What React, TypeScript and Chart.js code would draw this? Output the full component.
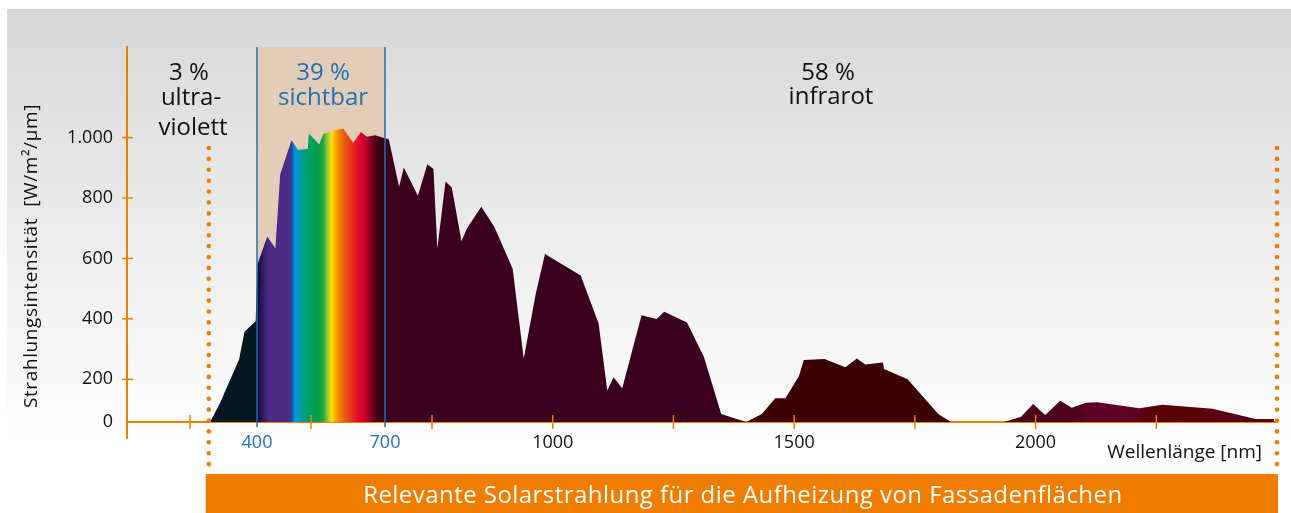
import React, { useEffect, useRef } from 'react';
import { Chart, LinearScale, registerables } from 'chart.js';

// ---------- data ----------
const wavelengthNm = [
  295, 317, 360, 372, 397,
  401, 419, 434, 443, 464, 476, 494, 496, 522, 533, 560, 587, 614, 635, 651, 673, 695,
  704, 715, 720, 735, 745, 753, 761, 778, 791, 811, 822, 852, 879, 917, 940, 965, 984,
  1058, 1095, 1113, 1126, 1144, 1184, 1215, 1231, 1278, 1313, 1349, 1373, 1401,
  1433, 1461, 1482, 1510, 1520, 1563, 1606, 1630, 1647, 1684, 1686, 1735, 1799, 1825,
  1935, 1970, 1995, 2020, 2051, 2075, 2104, 2128, 2215, 2263, 2366, 2456, 2494,
];
const intensity = [
  0, 88, 266, 357, 392,
  582, 673, 634, 879, 991, 959, 963, 1014, 978, 1011, 1024, 1030, 983, 1019, 1003, 1008, 1000,
  995, 837, 901, 808, 912, 896, 632, 855, 835, 657, 698, 771, 705, 566, 269, 484, 615,
  544, 385, 147, 207, 158, 412, 400, 424, 388, 275, 37, 20, 0,
  37, 111, 111, 211, 264, 267, 240, 269, 249, 256, 234, 200, 36, 0,
  0, 25, 84, 33, 100, 67, 90, 92, 64, 81, 62, 14, 14,
];

const visibleRangeNm = [400, 700];
const relevantRangeNm = [292, 2500];
const xLabeledTicks = [400, 700, 1000, 1500, 2000];
const xMinorTicks = [250, 500, 750, 1000, 1250, 1500, 1750, 2000, 2250];
const yTicks = [0, 200, 400, 600, 800, 1000];

// spectrum colour map (wavelength -> colour)
const stopNm = [280, 398, 401, 410, 422, 458, 464, 470, 476, 482, 494, 520, 533, 545, 556, 565, 575, 590, 610, 630, 645, 660, 675, 690, 700,
  1400, 1420, 1830, 1940, 2000, 2080, 2110, 2200, 2240, 2330, 2380, 2500];
const stopColor = ['#03171f', '#03171f', '#150b26', '#2f1a5e', '#4b2b85', '#4b2b85', '#2e3f9c', '#0096d8', '#0098c8', '#009b98', '#00a06a', '#00a04a', '#2aa83c', '#9cc83a', '#ffe500', '#f9b200', '#f08a00', '#e95d12', '#e5301d', '#e3062c', '#c8002e', '#8c0022', '#4a0010', '#360010', '#3a001e',
  '#3a001e', '#3d0000', '#3d0000', '#42000f', '#4c001a', '#4d001a', '#5c0024', '#5e0024', '#560004', '#580004', '#5a0014', '#5a0014'];

// ---------- axis warping (the illustration's axes are not uniform) ----------
const X_WARP = [[120, 127], [250, 190], [400, 257], [500, 311], [700, 385], [750, 432], [2500, 1277]];
const Y_WARP = [[0, 422], [200, 379.3], [1300, 47]];
const WARPS: Record<string, number[][]> = { x: X_WARP, y: Y_WARP };

function interp(a: number[][], v: number, from = 0, to = 1) {
  let i = 0;
  while (i < a.length - 2 && v > a[i + 1][from]) i++;
  const [p, q] = [a[i], a[i + 1]];
  return p[to] + ((v - p[from]) * (q[to] - p[to])) / (q[from] - p[from]);
}

class WarpScale extends LinearScale {
  static id = 'warp';
  static defaults = LinearScale.defaults;
  getPixelForValue(value: number) {
    if (value === null || value === undefined) return NaN;
    const a = WARPS[(this as any).id];
    const r0 = interp(a, (this as any).min), r1 = interp(a, (this as any).max);
    return (this as any).getPixelForDecimal((interp(a, value) - r0) / (r1 - r0));
  }
  getValueForPixel(pixel: number) {
    const a = WARPS[(this as any).id];
    const r0 = interp(a, (this as any).min), r1 = interp(a, (this as any).max);
    const d = (this as any).getDecimalForPixel(pixel);
    const sorted = a[0][1] <= a[a.length - 1][1] ? a : [...a].reverse();
    return interp(sorted, r0 + d * (r1 - r0), 1, 0);
  }
}

Chart.register(...registerables, WarpScale as any);

const FONT = '"Open Sans", "DejaVu Sans", sans-serif';
const ORANGE = '#f07d00';
const BLUE = '#1c70b7';
const PEACH = '#e4cdb6';
const INK = '#111111';

function spectrumFill(chart: any) {
  const xs = chart.scales?.x;
  if (!xs || !chart.chartArea) return '#3a001e';
  const w = xs.right - xs.left;
  const g = chart.ctx.createLinearGradient(xs.left, 0, xs.right, 0);
  stopNm.forEach((nm, i) => {
    const p = (xs.getPixelForValue(nm) - xs.left) / w;
    g.addColorStop(Math.min(1, Math.max(0, p)), stopColor[i]);
  });
  return g;
}

function seg(ctx: CanvasRenderingContext2D, x1: number, y1: number, x2: number, y2: number) {
  ctx.beginPath();
  ctx.moveTo(x1, y1);
  ctx.lineTo(x2, y2);
  ctx.stroke();
}

function txt(ctx: CanvasRenderingContext2D, s: string, x: number, y: number, size: number, color: string, align: CanvasTextAlign = 'center', spacing = 0) {
  ctx.font = `${size}px ${FONT}`;
  (ctx as any).letterSpacing = `${spacing}px`;
  ctx.fillStyle = color;
  ctx.textAlign = align;
  ctx.textBaseline = 'alphabetic';
  ctx.fillText(s, x, y);
  (ctx as any).letterSpacing = '0px';
}

const decor = {
  id: 'decor',
  beforeDraw(chart: any) {
    const { ctx, width, height } = chart;
    ctx.save();
    ctx.fillStyle = '#ffffff';
    ctx.fillRect(0, 0, width, height);
    const g = ctx.createLinearGradient(0, 9, 0, 445);
    g.addColorStop(0, '#d8d8d8');
    g.addColorStop(1, '#ffffff');
    ctx.fillStyle = g;
    ctx.fillRect(7, 9, width - 7, height - 9);
    ctx.restore();
  },
  beforeDatasetsDraw(chart: any) {
    const { ctx, chartArea } = chart;
    const xs = chart.scales.x, ys = chart.scales.y;
    const x0 = xs.getPixelForValue(visibleRangeNm[0]);
    const x1 = xs.getPixelForValue(visibleRangeNm[1]);
    ctx.save();
    ctx.fillStyle = PEACH;
    ctx.fillRect(x0, chartArea.top, x1 - x0, ys.getPixelForValue(0) - chartArea.top);
    ctx.restore();
  },
  afterDatasetsDraw(chart: any) {
    const { ctx, chartArea } = chart;
    const xs = chart.scales.x, ys = chart.scales.y;
    const y0 = ys.getPixelForValue(0);
    ctx.save();
    // visible band borders
    ctx.strokeStyle = BLUE;
    ctx.lineWidth = 1.5;
    visibleRangeNm.forEach((nm) => {
      const px = xs.getPixelForValue(nm);
      seg(ctx, px, chartArea.top, px, y0 + 5);
    });
    // tick marks crossing the axes
    ctx.strokeStyle = ORANGE;
    ctx.lineWidth = 1.5;
    xMinorTicks.forEach((nm) => {
      const px = xs.getPixelForValue(nm);
      seg(ctx, px, y0 - 7, px, y0 + 7);
    });
    yTicks.forEach((v) => {
      if (v === 0) return;
      const py = ys.getPixelForValue(v);
      seg(ctx, chartArea.left - 5, py, chartArea.left + 6, py);
    });
    ctx.lineWidth = 2;
    seg(ctx, chartArea.left, y0, chartArea.left, y0 + 17);
    // relevant range (dotted)
    ctx.lineWidth = 4.6;
    ctx.lineCap = 'round';
    ctx.setLineDash([0, 10.9]);
    relevantRangeNm.forEach((nm) => {
      const px = xs.getPixelForValue(nm);
      seg(ctx, px, 148, px, 470);
    });
    ctx.setLineDash([]);
    ctx.lineCap = 'butt';
    // bar
    const bx0 = xs.getPixelForValue(relevantRangeNm[0]) - 3;
    const bx1 = xs.getPixelForValue(relevantRangeNm[1]) + 1;
    ctx.fillStyle = ORANGE;
    ctx.fillRect(bx0, 474, bx1 - bx0, 513 - 474);
    txt(ctx, 'Relevante Solarstrahlung für die Aufheizung von Fassadenflächen', (bx0 + bx1) / 2 + 1, 503, 24, '#ffffff', 'center', 0.45);
    // band labels
    txt(ctx, '3 %', 189, 80, 24, INK);
    txt(ctx, 'ultra-', 191, 105, 24, INK);
    txt(ctx, 'violett', 193, 135, 24, INK);
    txt(ctx, '39 %', 323, 80, 24, BLUE);
    txt(ctx, 'sichtbar', 323, 105, 24, BLUE);
    txt(ctx, '58 %', 828, 80, 24, INK);
    txt(ctx, 'infrarot', 831, 104, 24, INK);
    // axis titles
    txt(ctx, 'Wellenlänge [nm]', 1262, 458, 19, INK, 'right');
    ctx.save();
    ctx.translate(37, 256);
    ctx.rotate(-Math.PI / 2);
    txt(ctx, 'Strahlungsintensität  [W/m²/µm]', 0, 0, 19, INK, 'center', 0.6);
    ctx.restore();
    ctx.restore();
  },
};

export default function App() {
  const ref = useRef<HTMLCanvasElement | null>(null);
  useEffect(() => {
    if (!ref.current) return;
    const chart = new Chart(ref.current, {
      type: 'line',
      data: {
        datasets: [
          {
            data: wavelengthNm.map((x, i) => ({ x, y: intensity[i] })),
            fill: 'origin',
            borderWidth: 0,
            pointRadius: 0,
            tension: 0,
            backgroundColor: (c: any) => spectrumFill(c.chart),
          } as any,
        ],
      },
      options: {
        responsive: false,
        animation: false,
        devicePixelRatio: 1,
        events: [],
        layout: { padding: { left: 0, top: 47, right: 14, bottom: 0 } },
        plugins: { legend: { display: false }, tooltip: { enabled: false }, title: { display: false } },
        scales: {
          x: {
            type: 'warp' as any,
            min: 120,
            max: 2500,
            bounds: 'data',
            grid: { display: false, drawTicks: false },
            border: { display: true, color: ORANGE, width: 2 },
            afterBuildTicks: (s: any) => {
              const vals = Array.from(new Set([...xMinorTicks, ...xLabeledTicks])).sort((a, b) => a - b);
              s.ticks = vals.map((value) => ({ value }));
            },
            afterFit: (s: any) => { s.height = 91; },
            ticks: {
              autoSkip: false,
              maxRotation: 0,
              padding: 10,
              font: { family: FONT, size: 18 },
              color: (c: any) => (visibleRangeNm.includes(c.tick?.value) ? BLUE : INK),
              callback: (v: any) => (xLabeledTicks.includes(Number(v)) ? String(v) : ''),
            },
          },
          y: {
            type: 'warp' as any,
            min: 0,
            max: 1300,
            bounds: 'data',
            grid: { display: false, drawTicks: false },
            border: { display: true, color: ORANGE, width: 2 },
            afterBuildTicks: (s: any) => { s.ticks = yTicks.map((value) => ({ value })); },
            afterFit: (s: any) => { s.width = 127; },
            ticks: {
              autoSkip: false,
              padding: 14,
              font: { family: FONT, size: 18 },
              color: INK,
              callback: (v: any) => Number(v).toLocaleString('de-DE'),
            },
          },
        } as any,
      },
      plugins: [decor],
    });
    return () => chart.destroy();
  }, []);
  return (
    <div style={{ position: 'fixed', left: 0, top: 0, width: 1291, height: 513, overflow: 'hidden' }}>
      <canvas ref={ref} width={1291} height={513} style={{ display: 'block' }} />
    </div>
  );
}
